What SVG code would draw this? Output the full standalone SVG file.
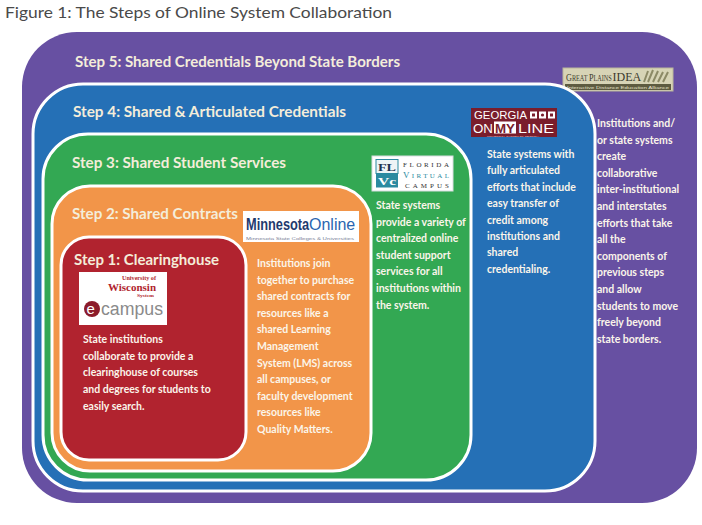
<svg xmlns="http://www.w3.org/2000/svg" width="702" height="525" viewBox="0 0 702 525">
<style>
.title{font-family:Lato,"Open Sans","DejaVu Sans",sans-serif;font-size:16px;fill:#4a4a4a}
.step{font-family:Lato,"Open Sans","DejaVu Sans",sans-serif;font-size:15px;font-weight:bold;fill:#F4EDDA}
.body{font-family:Lato,"Open Sans","DejaVu Sans",sans-serif;font-size:10.5px;font-weight:bold;fill:#FBF5EA}
.box{stroke:#ffffff;stroke-width:3}
.serif{font-family:"Liberation Serif","DejaVu Serif",serif}
.sans{font-family:"Liberation Sans","DejaVu Sans",sans-serif}
</style>
<rect width="702" height="525" fill="#ffffff"/>
<text class="title" x="5" y="18" textLength="387" lengthAdjust="spacingAndGlyphs">Figure 1: The Steps of Online System Collaboration</text>

<g id="step5">
<rect x="22" y="32" width="675" height="471" rx="55" fill="#6750A2"/>
<text class="step" x="75" y="67" textLength="325" lengthAdjust="spacingAndGlyphs">Step 5: Shared Credentials Beyond State Borders</text>
<g id="logo-greatplains">
<rect x="563" y="68" width="110" height="23" fill="#D7D4B6" stroke="#B9B69A" stroke-width="1"/>
<text class="serif" transform="translate(566,81) scale(0.78,1)" x="0" y="0" fill="#3b3a2c" font-size="8"><tspan font-size="10.5">G</tspan>REAT <tspan font-size="10.5">P</tspan>LAINS</text>
<text class="serif" x="612.5" y="81" fill="#3b3a2c" font-size="12">IDEA</text>
<path d="M644 82 L648 71 M648 82 L653 70 M653 82 L658 71 M658 82 L663 72 M663 82 L668 72" stroke="#8C8A66" stroke-width="2" fill="none"/>
<rect x="565" y="84" width="106" height="6" fill="#5D5B40"/>
<text class="sans" x="567" y="89.2" font-size="4" fill="#E6E3CC" textLength="102" lengthAdjust="spacingAndGlyphs">Interactive Distance Education Alliance</text>
</g>
<text class="body">
<tspan x="597" y="127">Institutions and/</tspan>
<tspan x="597" y="143.6">or state systems</tspan>
<tspan x="597" y="160.2">create</tspan>
<tspan x="597" y="176.8">collaborative</tspan>
<tspan x="597" y="193.4">inter-institutional</tspan>
<tspan x="597" y="210">and interstates</tspan>
<tspan x="597" y="226.6">efforts that take</tspan>
<tspan x="597" y="243.2">all the</tspan>
<tspan x="597" y="259.8">components of</tspan>
<tspan x="597" y="276.4">previous steps</tspan>
<tspan x="597" y="293">and allow</tspan>
<tspan x="597" y="309.6">students to move</tspan>
<tspan x="597" y="326.2">freely beyond</tspan>
<tspan x="597" y="342.8">state borders.</tspan>
</text>
</g>

<g id="step4">
<rect class="box" x="33" y="84" width="562" height="407" rx="50" fill="#2570B6"/>
<text class="step" x="73" y="117" textLength="273" lengthAdjust="spacingAndGlyphs">Step 4: Shared &amp; Articulated Credentials</text>
<g id="logo-georgia">
<rect x="471" y="108" width="86" height="29" fill="#7A1D2C"/>
<text class="sans" x="474" y="119" font-size="10" fill="#ffffff" textLength="53" lengthAdjust="spacingAndGlyphs">GEORGIA</text>
<rect x="530" y="111.5" width="7" height="7" fill="#ffffff"/>
<rect x="539" y="111.5" width="7" height="7" fill="#ffffff"/>
<rect x="548" y="111.5" width="7" height="7" fill="#ffffff"/>
<rect x="532" y="113.5" width="3" height="3" fill="#7A1D2C"/>
<circle cx="542.5" cy="115" r="1.6" fill="#7A1D2C"/>
<rect x="550" y="113.5" width="3" height="3" fill="#7A1D2C"/>
<text class="sans" x="473" y="133" font-size="13" fill="#ffffff" textLength="20" lengthAdjust="spacingAndGlyphs">ON</text>
<rect x="494" y="121.5" width="22" height="12" fill="#ffffff"/>
<text class="sans" x="495" y="132.5" font-size="12" font-weight="bold" fill="#7A1D2C" textLength="20" lengthAdjust="spacingAndGlyphs">MY</text>
<text class="sans" x="518" y="133" font-size="13" fill="#ffffff" textLength="36" lengthAdjust="spacingAndGlyphs">LINE</text>
<text class="sans" x="487" y="136.5" font-size="2.5" fill="#E8C9CE" textLength="52" lengthAdjust="spacingAndGlyphs">UNIVERSITY SYSTEM OF GEORGIA</text>
</g>
<text class="body">
<tspan x="487" y="158">State systems with</tspan>
<tspan x="487" y="174.4">fully articulated</tspan>
<tspan x="487" y="190.8">efforts that include</tspan>
<tspan x="487" y="207.2">easy transfer of</tspan>
<tspan x="487" y="223.6">credit among</tspan>
<tspan x="487" y="240">institutions and</tspan>
<tspan x="487" y="256.4">shared</tspan>
<tspan x="487" y="272.8">credentialing.</tspan>
</text>
</g>

<g id="step3">
<rect class="box" x="43" y="134" width="428" height="346" rx="45" fill="#33A853"/>
<text class="step" x="72" y="168" textLength="214" lengthAdjust="spacingAndGlyphs">Step 3: Shared Student Services</text>
<g id="logo-florida">
<rect x="372" y="156" width="81" height="35" fill="#ffffff" stroke="#D8DDE0" stroke-width="1"/>
<rect x="376" y="159.5" width="22" height="14" fill="#EEF4F6" stroke="#2B8AA0" stroke-width="1"/>
<text class="serif" x="378" y="171" font-size="11" font-weight="bold" fill="#1F3350" textLength="18" lengthAdjust="spacingAndGlyphs">FL</text>
<rect x="376" y="173.5" width="22" height="14" fill="#2B8AA0"/>
<text class="serif" x="378" y="185" font-size="11" font-weight="bold" fill="#ffffff" textLength="18" lengthAdjust="spacingAndGlyphs">Vc</text>
<text class="serif" x="403" y="166.5" font-size="7" fill="#333333" textLength="46" lengthAdjust="spacing">FLORIDA</text>
<text class="serif" x="403" y="177.5" font-size="7" fill="#2B8AA0" textLength="46" lengthAdjust="spacing"><tspan font-size="9">V</tspan>IRTUAL</text>
<text class="serif" x="405" y="188" font-size="7" fill="#333333" textLength="44" lengthAdjust="spacing">CAMPUS</text>
</g>
<text class="body">
<tspan x="376" y="209">State systems</tspan>
<tspan x="376" y="225.6">provide a variety of</tspan>
<tspan x="376" y="242.2">centralized online</tspan>
<tspan x="376" y="258.8">student support</tspan>
<tspan x="376" y="275.4">services for all</tspan>
<tspan x="376" y="292">institutions within</tspan>
<tspan x="376" y="308.6">the system.</tspan>
</text>
</g>

<g id="step2">
<rect class="box" x="52" y="186" width="319" height="285" rx="38" fill="#F29549"/>
<text class="step" x="72" y="219" textLength="166" lengthAdjust="spacingAndGlyphs">Step 2: Shared Contracts</text>
<g id="logo-minnesota">
<rect x="243" y="211" width="116" height="31" fill="#ffffff"/>
<text class="sans" transform="translate(246,229.5) scale(0.8,1)" x="0" y="0" font-size="16" font-weight="bold" fill="#1F3A6E">Minnesota</text>
<text class="sans" x="309" y="229.5" font-size="16" fill="#2A65B0">Online</text>
<text class="sans" x="246" y="240" font-size="4.2" fill="#7B8196" textLength="108" lengthAdjust="spacingAndGlyphs">Minnesota State Colleges &amp; Universities</text>
</g>
<text class="body">
<tspan x="257" y="267">Institutions join</tspan>
<tspan x="257" y="283.6">together to purchase</tspan>
<tspan x="257" y="300.2">shared contracts for</tspan>
<tspan x="257" y="316.8">resources like a</tspan>
<tspan x="257" y="333.4">shared Learning</tspan>
<tspan x="257" y="350">Management</tspan>
<tspan x="257" y="366.6">System (LMS) across</tspan>
<tspan x="257" y="383.2">all campuses, or</tspan>
<tspan x="257" y="399.8">faculty development</tspan>
<tspan x="257" y="416.4">resources like</tspan>
<tspan x="257" y="433">Quality Matters.</tspan>
</text>
</g>

<g id="step1">
<rect class="box" x="61" y="237" width="185" height="223" rx="28" fill="#B1232F"/>
<text class="step" x="74" y="265" textLength="145" lengthAdjust="spacingAndGlyphs">Step 1: Clearinghouse</text>
<g id="logo-wisconsin">
<rect x="79" y="272" width="88" height="53" fill="#ffffff"/>
<text class="serif" x="122" y="280" font-size="6" font-weight="bold" fill="#B01F2E" textLength="34" lengthAdjust="spacingAndGlyphs">University of</text>
<text class="serif" x="108" y="290.5" font-size="11" font-weight="bold" fill="#B01F2E" textLength="48" lengthAdjust="spacingAndGlyphs">Wisconsin</text>
<text class="serif" x="137" y="297" font-size="5" font-weight="bold" fill="#B01F2E" textLength="17" lengthAdjust="spacingAndGlyphs">System</text>
<circle cx="92" cy="309" r="8" fill="#8C1B2A"/>
<text class="sans" x="86.5" y="314" font-size="15" fill="#ffffff">e</text>
<text class="sans" x="101" y="315" font-size="18" fill="#8A8A8A" textLength="62" lengthAdjust="spacingAndGlyphs">campus</text>
</g>
<text class="body">
<tspan x="83" y="343">State institutions</tspan>
<tspan x="83" y="359.7">collaborate to provide a</tspan>
<tspan x="83" y="376.4">clearinghouse of courses</tspan>
<tspan x="83" y="393.1">and degrees for students to</tspan>
<tspan x="83" y="409.8">easily search.</tspan>
</text>
</g>
</svg>
